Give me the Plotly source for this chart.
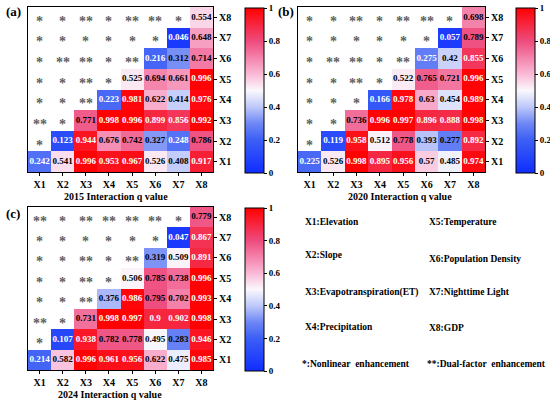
import plotly.graph_objects as go

W, H = 550, 402
cats = ["X1", "X2", "X3", "X4", "X5", "X6", "X7", "X8"]

# upper-triangle values, row Xr lists columns Xr..X8
vals_2015 = [
    [0.242, 0.541, 0.996, 0.953, 0.967, 0.526, 0.408, 0.917],
    [0.123, 0.944, 0.676, 0.742, 0.327, 0.248, 0.786],
    [0.771, 0.998, 0.996, 0.899, 0.856, 0.992],
    [0.223, 0.981, 0.622, 0.414, 0.976],
    [0.525, 0.694, 0.661, 0.996],
    [0.216, 0.312, 0.714],
    [0.046, 0.648],
    [0.554],
]
vals_2020 = [
    [0.225, 0.526, 0.998, 0.895, 0.956, 0.57, 0.485, 0.974],
    [0.119, 0.958, 0.512, 0.778, 0.393, 0.277, 0.892],
    [0.736, 0.996, 0.997, 0.896, 0.888, 0.998],
    [0.166, 0.978, 0.63, 0.454, 0.989],
    [0.522, 0.765, 0.721, 0.996],
    [0.275, 0.42, 0.855],
    [0.057, 0.789],
    [0.698],
]
vals_2024 = [
    [0.214, 0.582, 0.996, 0.961, 0.956, 0.622, 0.475, 0.985],
    [0.107, 0.938, 0.782, 0.778, 0.495, 0.283, 0.946],
    [0.731, 0.998, 0.997, 0.9, 0.902, 0.998],
    [0.376, 0.986, 0.795, 0.702, 0.993],
    [0.506, 0.785, 0.738, 0.996],
    [0.319, 0.509, 0.891],
    [0.047, 0.867],
    [0.779],
]

# lower-left markers, row Xr (r = 2..8) lists columns X1..X(r-1)
stars_2015 = [
    ["*"],
    ["**", "*"],
    ["*", "*", "**"],
    ["*", "*", "**", "*"],
    ["*", "**", "**", "*", "**"],
    ["*", "*", "*", "*", "*", "*"],
    ["*", "*", "**", "*", "**", "**", "*"],
]
stars_2020 = [
    ["*"],
    ["*", "*"],
    ["*", "*", "*"],
    ["*", "*", "**", "*"],
    ["*", "**", "**", "*", "**"],
    ["*", "*", "*", "*", "*", "*"],
    ["*", "*", "**", "*", "**", "**", "*"],
]
stars_2024 = [
    ["*"],
    ["**", "*"],
    ["*", "*", "**"],
    ["*", "*", "**", "*"],
    ["*", "*", "**", "*", "**"],
    ["*", "*", "*", "*", "*", "*"],
    ["**", "*", "**", "**", "**", "**", "*"],
]

titles = ["2015 Interaction q value", "2020 Interaction q value", "2024 Interaction q value"]
panel_tags = ["(a)", "(b)", "(c)"]

legend_left = ["X1:Elevation", "X2:Slope", "X3:Evapotranspiration(ET)", "X4:Precipitation"]
legend_right = ["X5:Temperature", "X6:Population Density", "X7:Nighttime Light", "X8:GDP"]
note_left = "*:Nonlinear  enhancement"
note_right = "**:Dual-factor  enhancement"

FONT = "Liberation Serif"
colorscale = [
    [0.0, "rgb(15,45,255)"],
    [0.2, "rgb(60,95,245)"],
    [0.3, "rgb(110,135,245)"],
    [0.4, "rgb(190,200,250)"],
    [0.5, "rgb(250,248,252)"],
    [0.6, "rgb(250,185,215)"],
    [0.8, "rgb(238,75,125)"],
    [1.0, "rgb(255,0,0)"],
]

def px(x): return x / W
def py(y): return 1 - y / H

panels = [
    dict(l=28, r=213, t=7, b=172, cb=245, tx=116, ty=196, tagx=4, tagy=12),
    dict(l=298, r=485, t=7, b=172, cb=516, tx=400, ty=196, tagx=276, tagy=12),
    dict(l=28, r=213, t=207, b=370, cb=245, tx=110, ty=394, tagx=4, tagy=213),
]
datasets = [(vals_2015, stars_2015), (vals_2020, stars_2020), (vals_2024, stars_2024)]

fig = go.Figure()
annotations = []
layout = {}

for k, (p, (vals, stars)) in enumerate(zip(panels, datasets)):
    xa = "x" if k == 0 else f"x{k+1}"
    ya = "y" if k == 0 else f"y{k+1}"
    z = [[None] * 8 for _ in range(8)]
    for r, row in enumerate(vals):
        for j, v in enumerate(row):
            z[r][r + j] = v
    fig.add_trace(go.Heatmap(
        z=z, x=cats, y=cats, zmin=0, zmax=1, colorscale=colorscale,
        xaxis=xa, yaxis=ya, hoverongaps=False,
        colorbar=dict(
            x=px(p["cb"]), xanchor="left", y=py(p["t"] + 1), yanchor="top",
            len=(p["b"] - p["t"]) / H, lenmode="fraction", thickness=19, thicknessmode="pixels",
            outlinewidth=1, outlinecolor="black", ticks="outside", ticklen=3, tickcolor="black",
            tickvals=[0, 0.2, 0.4, 0.6, 0.8, 1], ticktext=["0", "0.2", "0.4", "0.6", "0.8", "1"],
            tickfont=dict(family=FONT, size=9, color="black", weight="bold"), xpad=0, ypad=0,
        ),
    ))
    for color in ("white", "black"):
        xs, ys, ts = [], [], []
        for r, row in enumerate(vals):
            for j, v in enumerate(row):
                is_white = v < 0.276 or v > 0.8
                if (color == "white") == is_white:
                    xs.append(cats[r + j]); ys.append(cats[r]); ts.append(f"{v:g}")
        fig.add_trace(go.Scatter(
            x=xs, y=ys, text=ts, mode="text", xaxis=xa, yaxis=ya,
            textfont=dict(family=FONT, size=9, color=color, weight="bold"),
            hoverinfo="skip", showlegend=False,
        ))
    for i, row in enumerate(stars):
        r = i + 1
        for c, s in enumerate(row):
            annotations.append(dict(
                x=cats[c], y=cats[r], xref=xa, yref=ya, text=s, showarrow=False,
                yshift=-4, font=dict(family=FONT, size=14, color="#606060", weight="bold"),
            ))
    axis_common = dict(
        type="category", categoryorder="array", categoryarray=cats,
        showline=True, linecolor="black", linewidth=1, mirror=True,
        ticks="outside", ticklen=3, tickcolor="black", showgrid=False, zeroline=False,
        tickfont=dict(family=FONT, size=10, color="black", weight="bold"),
    )
    layout["xaxis" if k == 0 else f"xaxis{k+1}"] = dict(
        axis_common, domain=[px(p["l"]), px(p["r"])], anchor=ya, side="bottom",
    )
    layout["yaxis" if k == 0 else f"yaxis{k+1}"] = dict(
        axis_common, domain=[py(p["b"]), py(p["t"])], anchor=xa, side="right",
    )
    annotations.append(dict(
        x=px(p["tx"]), y=py(p["ty"]), xref="paper", yref="paper", text=titles[k],
        showarrow=False, xanchor="center", yanchor="middle",
        font=dict(family=FONT, size=10, color="black", weight="bold"),
    ))
    annotations.append(dict(
        x=px(p["tagx"]), y=py(p["tagy"]), xref="paper", yref="paper", text=panel_tags[k],
        showarrow=False, xanchor="left", yanchor="middle",
        font=dict(family=FONT, size=13, color="black", weight="bold"),
    ))

legend_font = dict(family=FONT, size=9.5, color="black", weight="bold")
left_y = [222, 255, 292, 327]
right_y = [222, 259, 292, 328]
for t, y in zip(legend_left, left_y):
    annotations.append(dict(x=px(303), y=py(y), xref="paper", yref="paper", text=t,
                            showarrow=False, xanchor="left", yanchor="middle", font=legend_font))
for t, y in zip(legend_right, right_y):
    annotations.append(dict(x=px(427), y=py(y), xref="paper", yref="paper", text=t,
                            showarrow=False, xanchor="left", yanchor="middle", font=legend_font))
annotations.append(dict(x=px(300), y=py(364), xref="paper", yref="paper", text=note_left,
                        showarrow=False, xanchor="left", yanchor="middle", font=legend_font))
annotations.append(dict(x=px(425), y=py(364), xref="paper", yref="paper", text=note_right,
                        showarrow=False, xanchor="left", yanchor="middle", font=legend_font))

fig.update_layout(
    width=W, height=H, margin=dict(l=0, r=0, t=0, b=0, autoexpand=False),
    paper_bgcolor="white", plot_bgcolor="white",
    annotations=annotations, showlegend=False, **layout,
)
fig.write_html(
    "out.html",
    config={"displayModeBar": False},
    post_script="document.body.style.margin='0';document.body.style.overflow='hidden';",
)
